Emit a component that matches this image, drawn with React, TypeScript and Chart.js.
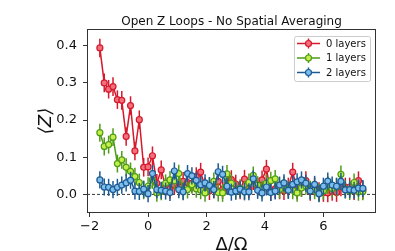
import React, { useEffect, useRef } from "react";
import { Chart, registerables } from "chart.js";

Chart.register(...registerables);

const xValues = [
  -1.65, -1.5, -1.35, -1.2, -1.05, -0.9, -0.75, -0.6, -0.45, -0.3, -0.15, 0, 0.15, 0.3, 0.45, 0.6,
  0.75, 0.9, 1.05, 1.2, 1.35, 1.5, 1.65, 1.8, 1.95, 2.1, 2.25, 2.4, 2.55, 2.7, 2.85, 3, 3.15, 3.3,
  3.45, 3.6, 3.75, 3.9, 4.05, 4.2, 4.35, 4.5, 4.65, 4.8, 4.95, 5.1, 5.25, 5.4, 5.55, 5.7, 5.85, 6,
  6.15, 6.3, 6.45, 6.6, 6.75, 6.9, 7.05, 7.2, 7.35,
];

const layers0 = [
  0.394, 0.3, 0.283, 0.29, 0.255, 0.253, 0.156, 0.239, 0.117, 0.201, 0.073, 0.074, 0.104, 0.03,
  0.066, 0.02, 0.015, 0.025, 0.02, 0.035, 0.032, 0.03, 0.048, 0.06, 0.02, 0.01, 0.015, 0.035,
  0.013, 0.026, 0.04, 0.028, 0.012, 0.041, 0.015, 0.037, 0.02, 0.039, 0.068, 0.008, 0.015, 0.012,
  0.01, 0.02, 0.06, 0.012, 0.018, 0.037, 0.008, 0.02, 0.008, 0.005, 0.004, 0.008, 0.005, 0.02,
  0.02, 0.02, 0.01, 0.037, 0.012,
];

const layers1 = [
  0.166, 0.129, 0.134, 0.154, 0.083, 0.093, 0.073, 0.062, 0.048, 0.032, 0.011, 0.022, 0.039,
  0.004, 0.008, 0.03, 0.039, 0.037, 0.056, 0.01, 0.013, 0.026, 0.015, 0.011, 0.004, 0.022, 0.035,
  0.005, 0.004, 0.055, 0.03, 0.01, 0.017, 0.011, 0.032, 0.051, 0.025, 0.013, 0.03, 0.037, 0.042,
  0.013, 0.024, 0.013, 0.011, 0.004, 0.017, 0.023, 0.013, 0.011, 0.005, 0.01, 0.025, 0.016, 0.02,
  0.054, 0.014, 0.009, 0.032, 0.007, 0.008,
];

const layers2 = [
  0.039, 0.02, 0.019, 0.013, 0.019, 0.025, 0.031, 0.038, 0.009, 0.008, 0.014, 0.002, 0.056, 0.013,
  0.011, 0.009, 0.005, 0.063, 0.013, 0.007, 0.056, 0.05, 0.038, 0.026, 0.031, 0.024, 0.013, 0.061,
  0.054, 0.022, 0.006, 0.009, 0.014, 0.007, 0.007, 0.042, 0.011, 0.004, 0.02, 0.005, 0.009, 0.025,
  0.031, 0.011, 0.027, 0.034, 0.039, 0.03, 0.009, 0.027, 0.002, 0.022, 0.036, 0.025, 0.022, 0.035,
  0.012, 0.013, 0.011, 0.017, 0.016,
];

const errors0 = 0.025;
const errors1 = 0.024;
const errors2 = 0.023;

const seriesNames = ["0 layers", "1 layers", "2 layers"];
const xTicks = [-2, 0, 2, 4, 6];
const yTicks = [0, 0.1, 0.2, 0.3, 0.4];

const titleText = "Open Z Loops - No Spatial Averaging";
const xLabel = "Δ/Ω";
const yLabel = "⟨Z⟩";

const edgeColors = ["#d6182b", "#4f9c17", "#1c5b94"];
const fillColors = ["#f0707e", "#c4ef4a", "#7cbdec"];

const FONT = "'DejaVu Sans', sans-serif";

export default function App() {
  const ref = useRef<HTMLCanvasElement | null>(null);

  useEffect(() => {
    const canvas = ref.current;
    if (!canvas) return;
    const seriesValues = [layers0, layers1, layers2];
    const seriesErrors = [errors0, errors1, errors2];

    const datasets = seriesValues.map((vals, s) => ({
      label: seriesNames[s],
      data: vals.map((y, i) => ({ x: xValues[i], y })),
      errors: vals.map(() => seriesErrors[s]),
      borderColor: edgeColors[s],
      backgroundColor: fillColors[s],
      pointBackgroundColor: fillColors[s],
      pointBorderColor: edgeColors[s],
      pointRadius: 3,
      pointBorderWidth: 1.2,
      borderWidth: 1.5,
      tension: 0,
      order: 3 - s,
    }));

    const decor = {
      id: "decor",
      beforeDatasetsDraw(chart: any) {
        const { ctx, chartArea: a, scales } = chart;
        const y0 = scales.y.getPixelForValue(0);
        ctx.save();
        ctx.strokeStyle = "#222";
        ctx.lineWidth = 0.9;
        ctx.setLineDash([3, 2]);
        ctx.beginPath();
        ctx.moveTo(a.left, y0);
        ctx.lineTo(a.right, y0);
        ctx.stroke();
        ctx.restore();
      },
      beforeDatasetDraw(chart: any, args: any) {
        const { ctx, scales } = chart;
        const ds = chart.data.datasets[args.index];
        ctx.save();
        ctx.strokeStyle = ds.borderColor;
        ctx.lineWidth = 1.5;
        ds.data.forEach((p: any, i: number) => {
          const e = ds.errors[i];
          const px = scales.x.getPixelForValue(p.x);
          ctx.beginPath();
          ctx.moveTo(px, scales.y.getPixelForValue(p.y - e));
          ctx.lineTo(px, scales.y.getPixelForValue(p.y + e));
          ctx.stroke();
        });
        ctx.restore();
      },
      afterDraw(chart: any) {
        const { ctx, chartArea: a } = chart;
        ctx.save();
        // frame
        ctx.strokeStyle = "#333";
        ctx.lineWidth = 1;
        ctx.strokeRect(a.left + 0.5, a.top + 0.5, a.right - a.left - 1, a.bottom - a.top - 1);
        // title
        ctx.fillStyle = "#111";
        ctx.font = `12px ${FONT}`;
        ctx.textAlign = "center";
        ctx.textBaseline = "alphabetic";
        ctx.fillText(titleText, (a.left + a.right) / 2, 25);
        // x label
        ctx.font = `18px ${FONT}`;
        ctx.fillText(xLabel, (a.left + a.right) / 2, 250);
        // y label
        ctx.save();
        ctx.translate(50.5, (a.top + a.bottom) / 2);
        ctx.rotate(-Math.PI / 2);
        ctx.font = `italic 18px ${FONT}`;
        ctx.fillText(yLabel, 0, 0);
        ctx.restore();
        // legend
        const bx = 294.5, by = 36.5, bw = 76, bh = 45;
        ctx.fillStyle = "rgba(255,255,255,0.85)";
        ctx.strokeStyle = "#cccccc";
        ctx.lineWidth = 1;
        ctx.beginPath();
        ctx.roundRect(bx, by, bw, bh, 2);
        ctx.fill();
        ctx.stroke();
        const rows = [43.5, 58, 72.5];
        seriesNames.forEach((name, s) => {
          const ry = rows[s];
          ctx.strokeStyle = edgeColors[s];
          ctx.lineWidth = 1.5;
          ctx.beginPath();
          ctx.moveTo(297, ry);
          ctx.lineTo(320, ry);
          ctx.moveTo(308.5, ry - 5);
          ctx.lineTo(308.5, ry + 5);
          ctx.stroke();
          ctx.beginPath();
          ctx.arc(308.5, ry, 3, 0, Math.PI * 2);
          ctx.fillStyle = fillColors[s];
          ctx.fill();
          ctx.lineWidth = 1.2;
          ctx.stroke();
          ctx.fillStyle = "#111";
          ctx.font = `10px ${FONT}`;
          ctx.textAlign = "left";
          ctx.textBaseline = "middle";
          ctx.fillText(name, 326, ry + 0.5);
        });
        ctx.restore();
      },
    };

    const chart = new Chart(canvas, {
      type: "line",
      data: { datasets: datasets as any },
      options: {
        animation: false,
        responsive: false,
        maintainAspectRatio: false,
        layout: { padding: { left: 0, top: 29, right: 19, bottom: 0 } },
        plugins: { legend: { display: false }, title: { display: false }, tooltip: { enabled: false } },
        elements: { line: { fill: false } },
        scales: {
          x: {
            type: "linear",
            min: -2.09,
            max: 7.8,
            afterFit: (sc: any) => { sc.height = 38; },
            afterBuildTicks: (sc: any) => { sc.ticks = xTicks.map((v) => ({ value: v })); },
            grid: { drawOnChartArea: false, drawTicks: true, tickLength: 4, color: "#333", tickWidth: 1 },
            border: { display: false },
            ticks: {
              padding: 2,
              color: "#111",
              font: { family: FONT, size: 13 },
              maxRotation: 0,
              autoSkip: false,
              callback: (v: any) => (v < 0 ? "−" + Math.abs(v) : String(v)),
            },
          },
          y: {
            type: "linear",
            min: -0.05,
            max: 0.445,
            afterFit: (sc: any) => { sc.width = 87; },
            afterBuildTicks: (sc: any) => { sc.ticks = yTicks.map((v) => ({ value: v })); },
            grid: { drawOnChartArea: false, drawTicks: true, tickLength: 4, color: "#333", tickWidth: 1 },
            border: { display: false },
            ticks: {
              padding: 6,
              color: "#111",
              font: { family: FONT, size: 13 },
              autoSkip: false,
              callback: (v: any) => Number(v).toFixed(1),
            },
          },
        },
      },
      plugins: [decor],
    });
    return () => chart.destroy();
  }, []);

  return (
    <div style={{ position: "fixed", left: 0, top: 0, width: 395, height: 251, background: "#fff" }}>
      <canvas ref={ref} width={395} height={251} style={{ width: 395, height: 251 }} />
    </div>
  );
}
